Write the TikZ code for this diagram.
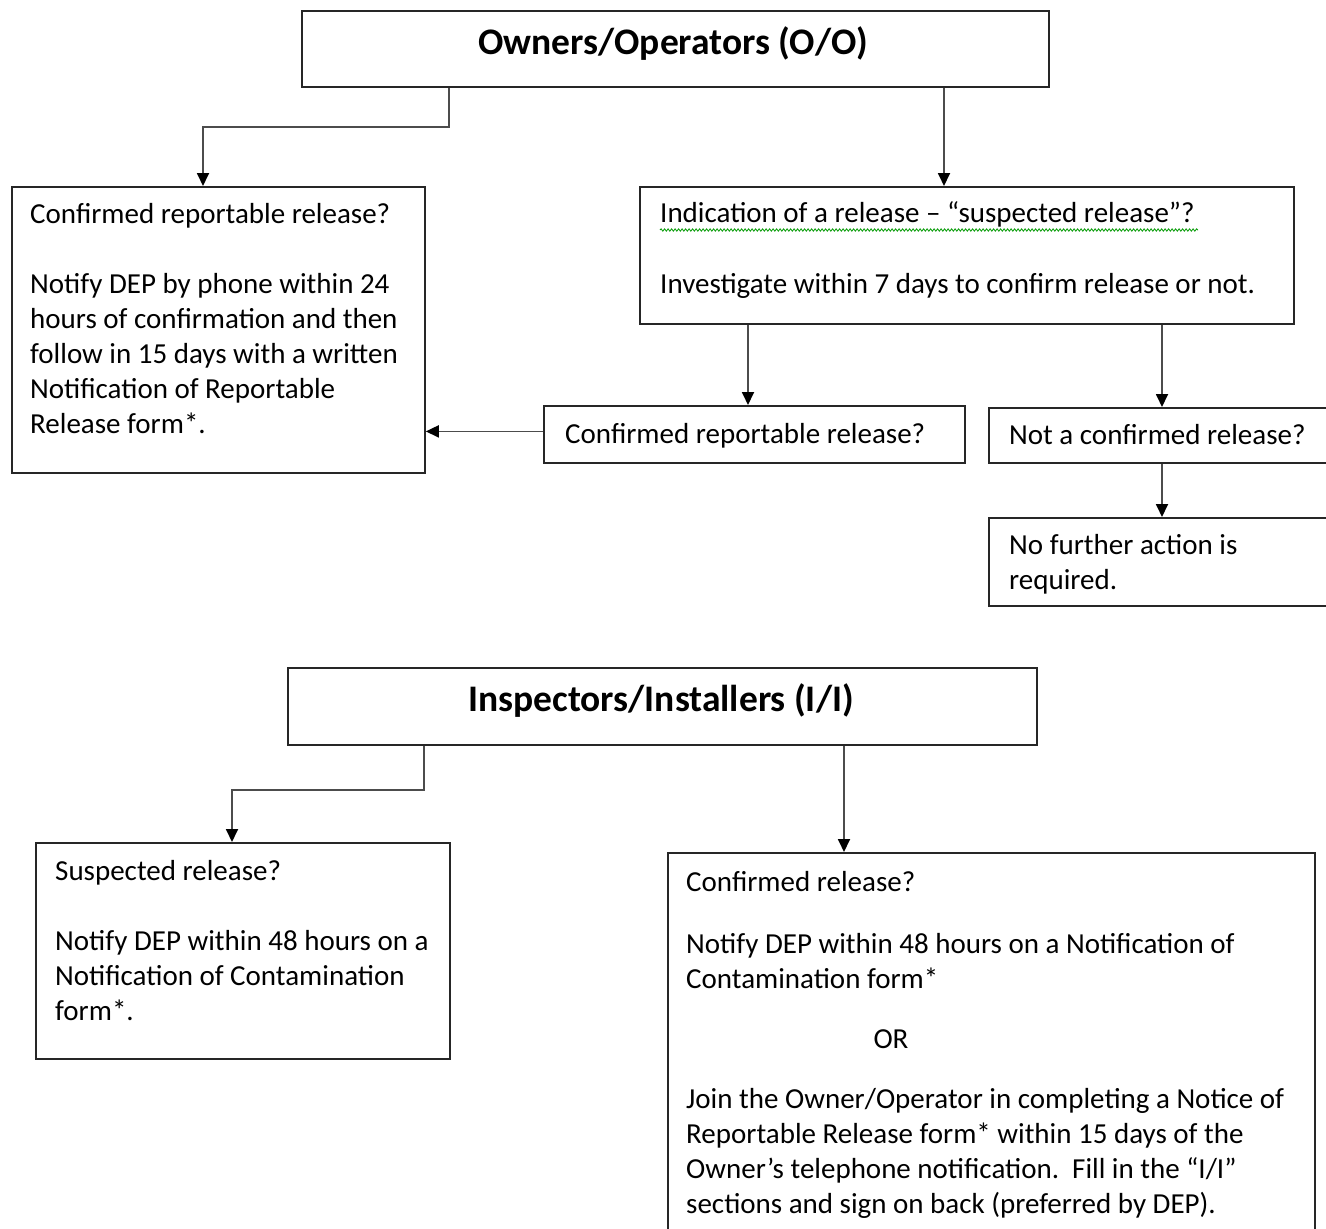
\documentclass[tikz,border=0pt]{standalone}
\usepackage{fontspec}
\setmainfont{Carlito}
\usetikzlibrary{arrows.meta,decorations.pathmorphing}
\begin{document}
\begin{tikzpicture}[x=1pt,y=-1pt,
  box/.style={draw=black!85,line width=1.8pt,rectangle,inner sep=0pt,anchor=north west},
  arr/.style={draw=black!70,line width=1.8pt,-{Triangle[length=13pt,width=12pt,black]}},
  txt/.style={anchor=base west,inner sep=0pt,align=left,font=\fontsize{29}{35}\selectfont},
  ttl/.style={anchor=base,inner sep=0pt,font=\fontsize{37.5}{40}\selectfont\bfseries}]
\useasboundingbox (0,0) rectangle (1326,1229);
\clip (0,0) rectangle (1326,1229);
\fill[white] (0,0) rectangle (1326,1229);
% boxes
\node[box,minimum width=747pt,minimum height=76pt] (oo) at (301,10) {};
\node[box,minimum width=413pt,minimum height=286pt] (A) at (11,186) {};
\node[box,minimum width=654pt,minimum height=137pt] (B) at (639,186) {};
\node[box,minimum width=421pt,minimum height=57pt] (C) at (543,405) {};
\node[box,minimum width=352pt,minimum height=55pt] (D) at (988,407) {};
\node[box,minimum width=352pt,minimum height=88pt] (E) at (988,517) {};
\node[box,minimum width=749pt,minimum height=77pt] (ii) at (287,667) {};
\node[box,minimum width=414pt,minimum height=216pt] (F) at (35,842) {};
\node[box,minimum width=647pt,minimum height=400pt] (G) at (667,852) {};
% titles
\node[ttl] (ootxt) at (673,54) {Owners/Operators (O/O)};
\node[ttl] (iitxt) at (661,711) {Inspectors/Installers (I/I)};
% texts (anchored at baseline of the last line)
\node[txt] (Atxt) at (30,433) {Confirmed reportable release?\\[35pt]Notify DEP by phone within 24\\hours of confirmation and then\\follow in 15 days with a written\\Notification of Reportable\\Release form*.};
\node[txt] (Btxt) at (660,293) {Indication of a release – “suspected release”?\\[36pt]Investigate within 7 days to confirm release or not.};
\draw[green!60!black,line width=0.8pt,decorate,decoration={snake,amplitude=1.2pt,segment length=3.5pt}] (660,230) -- (1198,230);
\node[txt] (Ctxt) at (565,443) {Confirmed reportable release?};
\node[txt] (Dtxt) at (1009,444) {Not a confirmed release?};
\node[txt] (Etxt) at (1009,589) {No further action is\\required.};
\node[txt] (Ftxt) at (55,1020) {Suspected release?\\[35pt]Notify DEP within 48 hours on a\\Notification of Contamination\\form*.};
\node[txt] (G1) at (686,891) {Confirmed release?};
\node[txt] (G2) at (686,988) {Notify DEP within 48 hours on a Notification of\\Contamination form*};
\node[txt,anchor=base] (G3) at (891,1048) {OR};
\node[txt] (G4) at (686,1213) {Join the Owner/Operator in completing a Notice of\\Reportable Release form* within 15 days of the\\Owner’s telephone notification.\ \ Fill in the “I/I”\\sections and sign on back (preferred by DEP).};
% connectors
\draw[arr] ([xshift=148pt]oo.south west) -- ++(0,39) -| ([xshift=192pt]A.north west);
\draw[arr] ([xshift=643pt]oo.south west) -- ([xshift=305pt]B.north west);
\draw[arr] ([xshift=109pt]B.south west) -- ([xshift=205pt]C.north west);
\draw[arr] ([xshift=523pt]B.south west) -- ([xshift=174pt]D.north west);
\draw[arr] ([xshift=174pt]D.south west) -- ([xshift=174pt]E.north west);
\draw[arr] ([yshift=3pt]C.west) -- ([yshift=3pt]C.west -| A.east);
\draw[arr] ([xshift=137pt]ii.south west) -- ++(0,44) -| ([xshift=197pt]F.north west);
\draw[arr] ([xshift=557pt]ii.south west) -- ([xshift=177pt]G.north west);
\end{tikzpicture}
\end{document}
